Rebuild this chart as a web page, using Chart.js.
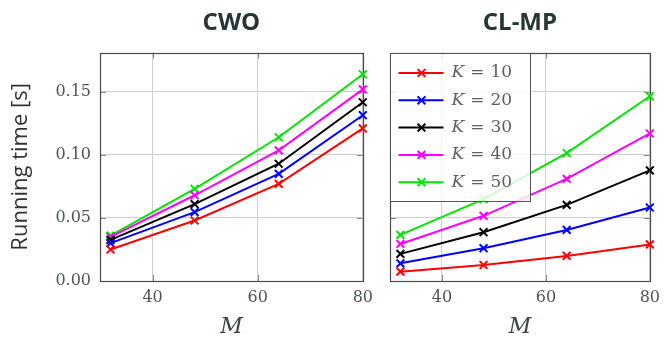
<!DOCTYPE html>
<html>
<head>
<meta charset="utf-8">
<script src="https://cdn.jsdelivr.net/npm/chart.js@4.4.1/dist/chart.umd.min.js"></script>
<style>
  html, body { margin: 0; padding: 0; background: #ffffff; }
  #wrap { position: relative; width: 667px; height: 340px; overflow: hidden; }
  #c1 { position: absolute; left: 0; top: 0; }
  #c2 { position: absolute; left: 380px; top: 0; }
</style>
</head>
<body>
<div id="wrap">
  <canvas id="c1" width="380" height="340"></canvas>
  <canvas id="c2" width="287" height="340"></canvas>
</div>
<script>
// ---- data ----
const M = [32, 48, 64, 80];
const seriesLabels = ['10', '20', '30', '40', '50'];
const seriesColors = ['#ff0000', '#0000ff', '#000000', '#ff00ff', '#00e600'];

const cwoK10 = [0.025, 0.048, 0.077, 0.121];
const cwoK20 = [0.030, 0.0546, 0.085, 0.1315];
const cwoK30 = [0.0326, 0.061, 0.093, 0.1418];
const cwoK40 = [0.035, 0.068, 0.1036, 0.152];
const cwoK50 = [0.036, 0.073, 0.114, 0.164];

const clmpK10 = [0.0074, 0.0127, 0.0199, 0.029];
const clmpK20 = [0.014, 0.026, 0.0405, 0.0583];
const clmpK30 = [0.0215, 0.0387, 0.0604, 0.0877];
const clmpK40 = [0.0294, 0.0517, 0.081, 0.117];
const clmpK50 = [0.0366, 0.065, 0.1015, 0.1465];

const xTicks = [40, 60, 80];
const yTicks = [0, 0.05, 0.10, 0.15];
const xMin = 30, xMax = 80, yMin = 0, yMax = 0.181;

// ---- styling ----
const tickColor = '#4d5656';
const gridColor = '#d0d0d0';
const frameColor = '#4a4a4a';
const serif = '"DejaVu Serif", serif';
const sans = '"Open Sans", "DejaVu Sans", sans-serif';

function makeDatasets(arrs) {
  return arrs.map((a, i) => ({
    label: seriesLabels[i],
    data: M.map((m, j) => ({ x: m, y: a[j] })),
    borderColor: seriesColors[i],
    backgroundColor: seriesColors[i],
    pointStyle: 'crossRot',
    pointRadius: 5.5,
    pointHoverRadius: 5.5,
    pointBorderWidth: 2,
    borderWidth: 2,
    tension: 0,
    clip: false,
    fill: false
  }));
}

// frame + inner tick marks (pgfplots style)
const framePlugin = {
  id: 'frame',
  beforeDatasetsDraw(chart) {
    const ctx = chart.ctx, ca = chart.chartArea;
    const xs = chart.scales.x, ys = chart.scales.y;
    ctx.save();
    ctx.strokeStyle = '#8a8a8a';
    ctx.lineWidth = 1;
    const tl = 6;
    xTicks.forEach(v => {
      const px = Math.round(xs.getPixelForValue(v)) + 0.5;
      ctx.beginPath();
      ctx.moveTo(px, ca.bottom); ctx.lineTo(px, ca.bottom - tl);
      ctx.moveTo(px, ca.top); ctx.lineTo(px, ca.top + tl);
      ctx.stroke();
    });
    yTicks.forEach(v => {
      const py = Math.round(ys.getPixelForValue(v)) + 0.5;
      ctx.beginPath();
      ctx.moveTo(ca.left, py); ctx.lineTo(ca.left + tl, py);
      ctx.moveTo(ca.right, py); ctx.lineTo(ca.right - tl, py);
      ctx.stroke();
    });
    ctx.strokeStyle = frameColor;
    ctx.lineWidth = 1.2;
    ctx.strokeRect(Math.round(ca.left) + 0.5, Math.round(ca.top) + 0.5,
                   Math.round(ca.right - ca.left), Math.round(ca.bottom - ca.top));
    ctx.restore();
  }
};

// legend inside the chart area, top-left
const legendPlugin = {
  id: 'innerLegend',
  afterDatasetsDraw(chart) {
    const ctx = chart.ctx, ca = chart.chartArea;
    const bx = Math.round(ca.left) + 0.5, by = Math.round(ca.top) + 0.5;
    const bw = 140, bh = 148;
    ctx.save();
    ctx.fillStyle = 'rgba(255,255,255,0.82)';
    ctx.fillRect(bx, by, bw, bh);
    ctx.strokeStyle = '#555555';
    ctx.lineWidth = 1;
    ctx.strokeRect(bx, by, bw, bh);
    chart.data.datasets.forEach((ds, i) => {
      const cy = by + 19.5 + i * 27.3;
      ctx.strokeStyle = ds.borderColor;
      ctx.lineWidth = 2;
      ctx.beginPath();
      ctx.moveTo(bx + 8, cy); ctx.lineTo(bx + 53, cy);
      ctx.stroke();
      Chart.helpers.drawPoint(ctx, {
        pointStyle: 'crossRot', radius: 5.5, borderWidth: 2
      }, bx + 31, cy);
      ctx.fillStyle = '#606060';
      ctx.textBaseline = 'middle';
      ctx.textAlign = 'left';
      let tx = bx + 61;
      ctx.font = 'italic 17px ' + serif;
      ctx.fillText('K', tx, cy);
      tx += ctx.measureText('K').width + 6;
      ctx.font = '17px ' + serif;
      ctx.fillText('=', tx, cy);
      tx += ctx.measureText('=').width + 6;
      ctx.fillText(ds.label, tx, cy);
    });
    ctx.restore();
  }
};

function makeOptions(title, showY, yWidth, padRight) {
  return {
    responsive: false,
    animation: false,
    devicePixelRatio: 1,
    layout: { padding: { left: 0, right: padRight, top: 0, bottom: 0 } },
    plugins: {
      legend: { display: false },
      tooltip: { enabled: false },
      title: {
        display: true,
        text: title,
        fullSize: false,
        color: '#263636',
        font: { family: sans, size: 24, weight: 'bold', lineHeight: 1.2 },
        padding: { top: 9, bottom: 15 }
      }
    },
    scales: {
      x: {
        type: 'linear',
        min: xMin, max: xMax,
        afterBuildTicks: s => { s.ticks = xTicks.map(v => ({ value: v })); },
        afterFit: s => { s.height = 59; },
        border: { display: false },
        grid: { color: gridColor, lineWidth: 1, drawTicks: false },
        ticks: {
          color: tickColor, padding: 7,
          font: { family: serif, size: 16 },
          maxRotation: 0,
          callback: v => String(v)
        },
        title: {
          display: true, text: 'M', color: '#3a4545',
          font: { family: serif, size: 22, style: 'italic' },
          padding: { top: 4, bottom: 0 }
        }
      },
      y: {
        type: 'linear',
        min: yMin, max: yMax,
        afterBuildTicks: s => { s.ticks = yTicks.map(v => ({ value: v })); },
        afterFit: s => { s.width = yWidth; },
        border: { display: false },
        grid: { color: gridColor, lineWidth: 1, drawTicks: false },
        ticks: {
          display: showY,
          color: tickColor, padding: 9,
          font: { family: serif, size: 16 },
          callback: v => Number(v).toFixed(2)
        },
        title: {
          display: showY, text: 'Running time [s]', color: '#333333',
          font: { family: sans, size: 22 },
          padding: { top: 8, bottom: 0 }
        }
      }
    }
  };
}

new Chart(document.getElementById('c1'), {
  type: 'line',
  data: { datasets: makeDatasets([cwoK10, cwoK20, cwoK30, cwoK40, cwoK50]) },
  options: makeOptions('CWO', true, 100, 12.5),
  plugins: [framePlugin]
});

new Chart(document.getElementById('c2'), {
  type: 'line',
  data: { datasets: makeDatasets([clmpK10, clmpK20, clmpK30, clmpK40, clmpK50]) },
  options: makeOptions('CL-MP', false, 10, 10.5),
  plugins: [framePlugin, legendPlugin]
});
</script>
</body>
</html>
